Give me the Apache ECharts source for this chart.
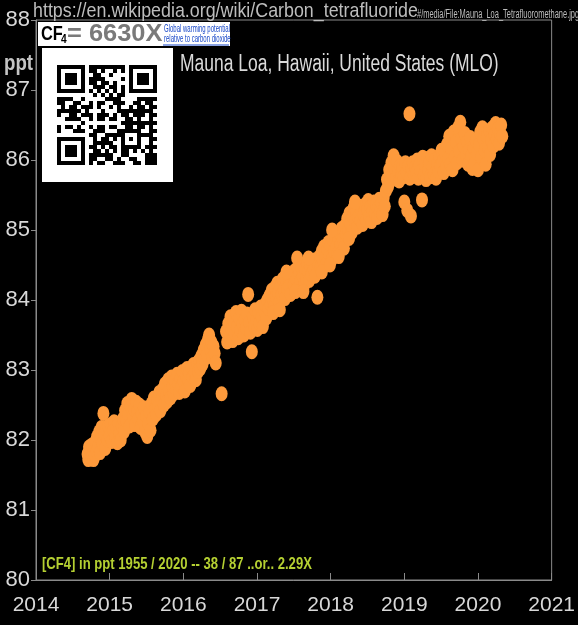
<!DOCTYPE html>
<html>
<head>
<meta charset="utf-8">
<script src="https://cdn.jsdelivr.net/npm/echarts@6/dist/echarts.min.js"></script>
<style>
html,body{margin:0;padding:0;background:#000;}
#chart{width:578px;height:625px;}
</style>
</head>
<body>
<div id="chart"></div>
<script>
// ---- Data (decimal year, CF4 in ppt) ----
const sampleDates = [
2014.70,2014.71,2014.72,2014.73,2014.74,2014.75,2014.76,2014.77,2014.78,2014.79,2014.80,2014.81,2014.82,2014.83,2014.845,2014.86,2014.87,2014.88,2014.89,2014.90,2014.915,2014.93,2014.94,2014.955,2014.97,2014.98,2015.00,
2015.015,2015.03,2015.045,2015.06,2015.075,2015.09,2015.105,2015.12,2015.135,2015.15,2015.165,2015.18,2015.195,
2015.21,2015.225,2015.24,2015.255,2015.27,2015.285,2015.30,2015.315,2015.33,2015.345,2015.36,2015.375,2015.39,2015.405,2015.42,2015.435,
2015.45,2015.465,2015.48,2015.495,2015.51,2015.525,2015.54,2015.555,2015.57,2015.585,2015.60,2015.615,2015.63,2015.645,2015.66,2015.675,2015.69,
2015.705,2015.72,2015.735,2015.75,2015.765,2015.78,2015.795,2015.81,2015.825,2015.84,2015.855,2015.87,2015.885,2015.90,2015.915,2015.93,
2015.945,2015.96,2015.975,2015.99,2016.005,2016.02,2016.035,2016.05,2016.065,2016.08,2016.095,2016.11,2016.125,2016.14,2016.155,2016.17,2016.185,
2016.20,2016.215,2016.23,2016.245,2016.26,2016.275,2016.29,2016.305,2016.32,2016.335,2016.35,2016.365,2016.38,2016.395,2016.41,2016.425,2016.44,2016.52,
2016.58,2016.595,2016.61,2016.625,2016.64,2016.655,2016.67,2016.685,2016.70,2016.715,2016.73,2016.745,2016.76,2016.775,2016.79,2016.805,2016.82,
2016.835,2016.85,2016.865,2016.88,2016.895,2016.91,2016.93,2016.945,2016.96,2016.975,2016.99,2017.005,2017.02,2017.035,2017.05,2017.065,2017.08,2017.095,2017.11,2017.125,2017.14,
2017.155,2017.17,2017.185,2017.20,2017.215,2017.23,2017.245,2017.26,2017.275,2017.29,2017.305,2017.32,2017.335,2017.35,2017.365,2017.38,2017.395,2017.41,2017.425,2017.44,2017.455,2017.47,
2017.485,2017.50,2017.515,2017.53,2017.545,2017.56,2017.575,2017.59,2017.605,2017.62,2017.635,2017.65,2017.665,2017.68,2017.695,2017.71,2017.725,2017.74,2017.755,2017.77,2017.785,2017.80,2017.82,2017.835,
2017.85,2017.865,2017.88,2017.895,2017.91,2017.925,2017.94,2017.955,2017.97,2017.985,2018.00,2018.015,2018.03,2018.045,2018.06,2018.075,2018.09,2018.105,2018.12,2018.135,2018.15,2018.165,2018.18,
2018.195,2018.21,2018.225,2018.24,2018.255,2018.27,2018.285,2018.30,2018.315,2018.33,2018.345,2018.36,2018.375,2018.39,2018.405,2018.42,2018.435,
2018.45,2018.465,2018.48,2018.495,2018.51,2018.525,2018.54,2018.555,2018.57,2018.585,2018.60,2018.615,2018.63,2018.645,2018.66,2018.675,2018.69,2018.705,2018.72,2018.735,
2018.75,2018.765,2018.78,2018.795,2018.81,2018.825,2018.84,2018.855,2018.87,2018.885,2018.90,2018.915,2018.93,2018.945,2018.96,
2018.975,2018.99,2019.00,2019.015,2019.03,2019.04,2019.055,2019.07,2019.075,2019.09,2019.10,2019.115,2019.13,2019.145,
2019.16,2019.175,2019.19,2019.205,2019.22,2019.24,2019.25,2019.265,2019.28,2019.295,2019.31,2019.325,2019.34,2019.355,2019.37,2019.385,2019.40,2019.415,2019.43,2019.445,
2019.46,2019.475,2019.49,2019.505,2019.52,2019.535,2019.55,2019.565,2019.58,2019.595,2019.61,2019.625,2019.64,2019.655,2019.67,2019.685,2019.70,
2019.715,2019.73,2019.745,2019.76,2019.775,2019.79,2019.805,2019.82,2019.835,2019.85,2019.865,2019.88,2019.895,
2019.91,2019.925,2019.94,2019.955,2019.97,2019.985,2020.00,2020.015,2020.03,2020.045,2020.06,2020.075,2020.09,2020.105,2020.12,2020.135,2020.15,2020.165,2020.18,2020.195,2020.21,2020.225,2020.24,2020.255,2020.27,2020.285,2020.30,2020.315,2020.33,
2017.22,2017.31,2017.40,2017.52,2017.63,2017.70,2017.88,2017.99,2018.02,2018.11,2018.25,2018.33
];
const cf4Ppt = [
81.80,81.72,81.90,81.76,81.85,81.74,81.93,81.80,81.72,81.88,81.78,81.98,81.84,82.05,81.90,82.12,81.82,82.02,82.18,81.95,82.38,82.08,81.88,82.15,82.00,82.20,82.06,
82.22,81.98,82.14,82.26,82.04,82.18,81.96,82.24,82.10,82.00,82.20,82.30,82.12,
82.42,82.28,82.52,82.36,82.20,82.48,82.58,82.34,82.44,82.22,82.54,82.40,82.30,82.50,82.18,82.38,
82.28,82.46,82.12,82.34,82.05,82.24,82.40,82.14,82.52,82.30,82.60,82.44,82.36,82.56,82.48,82.68,82.42,
82.58,82.72,82.50,82.80,82.64,82.55,82.86,82.70,82.60,82.90,82.76,82.66,82.84,82.72,82.94,82.80,
82.68,82.88,82.76,82.98,82.84,82.70,82.92,83.02,82.86,82.96,82.78,83.04,82.90,83.08,82.96,82.86,83.10,
82.98,83.14,83.02,83.20,83.08,83.28,83.16,83.36,83.22,83.44,83.50,83.30,83.40,83.18,83.34,83.24,83.10,82.66,
83.55,83.40,83.66,83.48,83.76,83.58,83.42,83.70,83.52,83.82,83.62,83.46,83.74,83.56,83.84,83.66,83.50,
83.72,83.60,83.80,84.08,83.68,83.54,83.26,83.76,83.62,83.86,83.70,83.58,83.82,83.66,83.90,83.76,83.62,83.86,83.94,83.74,84.00,
83.88,84.06,83.94,84.14,84.00,83.90,84.18,84.04,84.24,84.10,83.96,84.20,84.08,84.30,84.14,84.02,84.26,84.16,84.34,84.20,84.08,84.28,
84.36,84.22,84.42,84.30,84.60,84.18,84.38,84.26,84.46,84.34,84.20,84.44,84.30,84.52,84.40,84.28,84.48,84.36,84.56,84.44,84.34,84.58,84.04,84.50,
84.62,84.48,84.70,84.56,84.76,84.62,84.50,84.72,84.82,84.64,84.78,84.58,84.86,84.70,84.92,84.76,84.66,84.88,84.96,84.80,85.02,84.86,84.74,
85.06,84.94,85.16,85.00,85.24,85.08,84.96,85.20,85.32,85.12,85.26,85.04,85.18,85.34,85.14,85.28,85.08,
85.22,85.36,85.14,85.30,85.42,85.20,85.34,85.12,85.28,85.40,85.24,85.36,85.18,85.32,85.44,85.26,85.38,85.22,85.46,85.34,
85.56,85.72,85.62,85.86,85.70,85.96,85.80,86.06,85.88,85.74,85.98,85.84,85.70,85.92,85.78,
85.90,85.76,85.40,85.96,85.82,85.28,85.92,86.66,85.74,85.20,85.88,85.96,85.78,85.90,
85.82,86.00,85.74,85.94,85.84,85.43,86.04,85.78,85.92,85.72,86.02,85.86,85.96,85.76,86.06,85.90,85.80,86.00,85.74,85.94,
85.84,86.06,85.92,86.14,85.98,85.82,86.10,85.90,86.22,86.02,86.34,85.94,86.16,85.86,86.40,86.04,86.26,
85.96,86.46,86.12,86.54,86.30,86.00,86.20,86.38,86.08,86.26,85.94,86.14,86.32,
86.06,85.88,86.18,85.96,86.28,86.10,85.86,86.22,86.40,86.04,86.46,86.30,86.14,85.94,86.34,86.18,86.42,86.08,86.28,86.46,86.20,86.36,86.52,86.30,86.44,86.24,86.38,86.50,86.34,
83.82,83.86,84.40,84.12,84.12,84.60,84.40,84.50,85.00,84.62,84.88,85.40
];
const yearTicks = [2014, 2015, 2016, 2017, 2018, 2019, 2020, 2021];
const pptTicks = [80, 81, 82, 83, 84, 85, 86, 87, 88];

const titleText = 'Mauna Loa, Hawaii, United States (MLO)';
const urlMain = 'https://en.wikipedia.org/wiki/Carbon_tetrafluoride';
const urlTail = '#/media/File:Mauna_Loa_Tetrafluoromethane.jpg';
const noteText = '[CF4] in ppt 1955 / 2020 -- 38 / 87 ..or.. 2.29X';

const SANS = "'Liberation Sans',Arial,sans-serif";

// ---- decorative QR-like block ----
function qrElements(x0, y0, m) {
  const N = 25;
  const grid = [];
  for (let r = 0; r < N; r++) { grid.push(new Array(N).fill(0)); }
  for (let r = 0; r < N; r++) for (let c = 0; c < N; c++) {
    const h = (r * 31 + c * 17 + r * c * 7 + ((r ^ c) * 5)) % 11;
    grid[r][c] = h < 6 ? 1 : 0;
  }
  function finder(r0, c0) {
    for (let r = -1; r < 8; r++) for (let c = -1; c < 8; c++) {
      const rr = r0 + r, cc = c0 + c;
      if (rr < 0 || cc < 0 || rr >= N || cc >= N) continue;
      let v = 0;
      if (r >= 0 && r <= 6 && c >= 0 && c <= 6) {
        if (r === 0 || r === 6 || c === 0 || c === 6) v = 1;
        else if (r >= 2 && r <= 4 && c >= 2 && c <= 4) v = 1;
      }
      grid[rr][cc] = v;
    }
  }
  finder(0, 0); finder(0, 18); finder(18, 0);
  for (let i = 8; i < 17; i++) { grid[6][i] = i % 2 === 0 ? 1 : 0; grid[i][6] = i % 2 === 0 ? 1 : 0; }
  for (let r = -2; r <= 2; r++) for (let c = -2; c <= 2; c++) {
    grid[18 + r][18 + c] = (Math.max(Math.abs(r), Math.abs(c)) !== 1) ? 1 : 0;
  }
  const els = [];
  for (let r = 0; r < N; r++) for (let c = 0; c < N; c++) {
    if (grid[r][c]) {
      els.push({ type: 'rect', shape: { x: x0 + c * m, y: y0 + r * m, width: m, height: m }, style: { fill: '#000' } });
    }
  }
  return els;
}

const chart = echarts.init(document.getElementById('chart'), null, { renderer: 'canvas' });

const points = sampleDates.map((d, i) => [d, cf4Ppt[i]]);

function narrowText(x, y, text, fill, font, sx) {
  return { type: 'text', x: x, y: y, scaleX: sx, style: { text: text, fill: fill, font: font } };
}

const graphics = [
  narrowText(33, 1, urlMain, '#bdbdbd', '21px ' + SANS, 0.85),
  narrowText(417, 9, urlTail, '#bdbdbd', '12px ' + SANS, 0.62),
  narrowText(4, 53, 'ppt', '#c4c4c4', 'bold 22px ' + SANS, 0.85),
  narrowText(180, 53, titleText, '#dadada', '23px ' + SANS, 0.76),
  { type: 'rect', shape: { x: 38, y: 22, width: 192, height: 24 }, style: { fill: '#fff' } },
  narrowText(41, 24, 'CF', '#000', 'bold 21px ' + SANS, 0.78),
  narrowText(61, 34, '4', '#000', 'bold 12px ' + SANS, 0.85),
  narrowText(67, 22, '= 6630X', '#7a7a7a', 'bold 24px ' + SANS, 1.06),
  narrowText(164, 24, 'Global warming potential', '#1747c8', '10px ' + SANS, 0.6),
  narrowText(164, 34, 'relative to carbon dioxide', '#1747c8', '10px ' + SANS, 0.6),
  { type: 'line', shape: { x1: 163, y1: 45, x2: 229, y2: 45 }, style: { stroke: '#1747c8', lineWidth: 1 } },
  { type: 'rect', shape: { x: 42, y: 48, width: 131, height: 134 }, style: { fill: '#fff' } },
  { type: 'group', children: qrElements(57, 65, 4) },
  narrowText(42, 556, noteText, '#b5d032', 'bold 17px ' + SANS, 0.77)
];

chart.setOption({
  backgroundColor: '#000',
  animation: false,
  grid: { left: 36, right: 22, top: 20, bottom: 45, show: true, borderColor: '#8a8a8a', borderWidth: 1, backgroundColor: 'transparent' },
  xAxis: {
    type: 'value', min: yearTicks[0], max: yearTicks[yearTicks.length - 1], interval: 1,
    axisLine: { show: true, lineStyle: { color: '#8a8a8a', width: 1 } },
    axisTick: { show: true, inside: true, length: 7, lineStyle: { color: '#8a8a8a' } },
    splitLine: { show: false },
    axisLabel: { color: '#d8d8d8', fontSize: 21, fontFamily: SANS, margin: 15, formatter: v => String(v) }
  },
  yAxis: {
    type: 'value', min: pptTicks[0], max: pptTicks[pptTicks.length - 1], interval: 1,
    axisLine: { show: true, lineStyle: { color: '#8a8a8a', width: 1 } },
    axisTick: { show: true, inside: false, length: 5, lineStyle: { color: '#8a8a8a' } },
    splitLine: { show: false },
    axisLabel: { color: '#d8d8d8', fontSize: 22, fontFamily: SANS, margin: 6 }
  },
  series: [{
    type: 'scatter',
    data: points,
    symbol: 'circle',
    symbolSize: [12, 15],
    itemStyle: { color: '#fd9a3c', opacity: 1 },
    z: 2
  }],
  graphic: graphics
});
</script>
</body>
</html>
